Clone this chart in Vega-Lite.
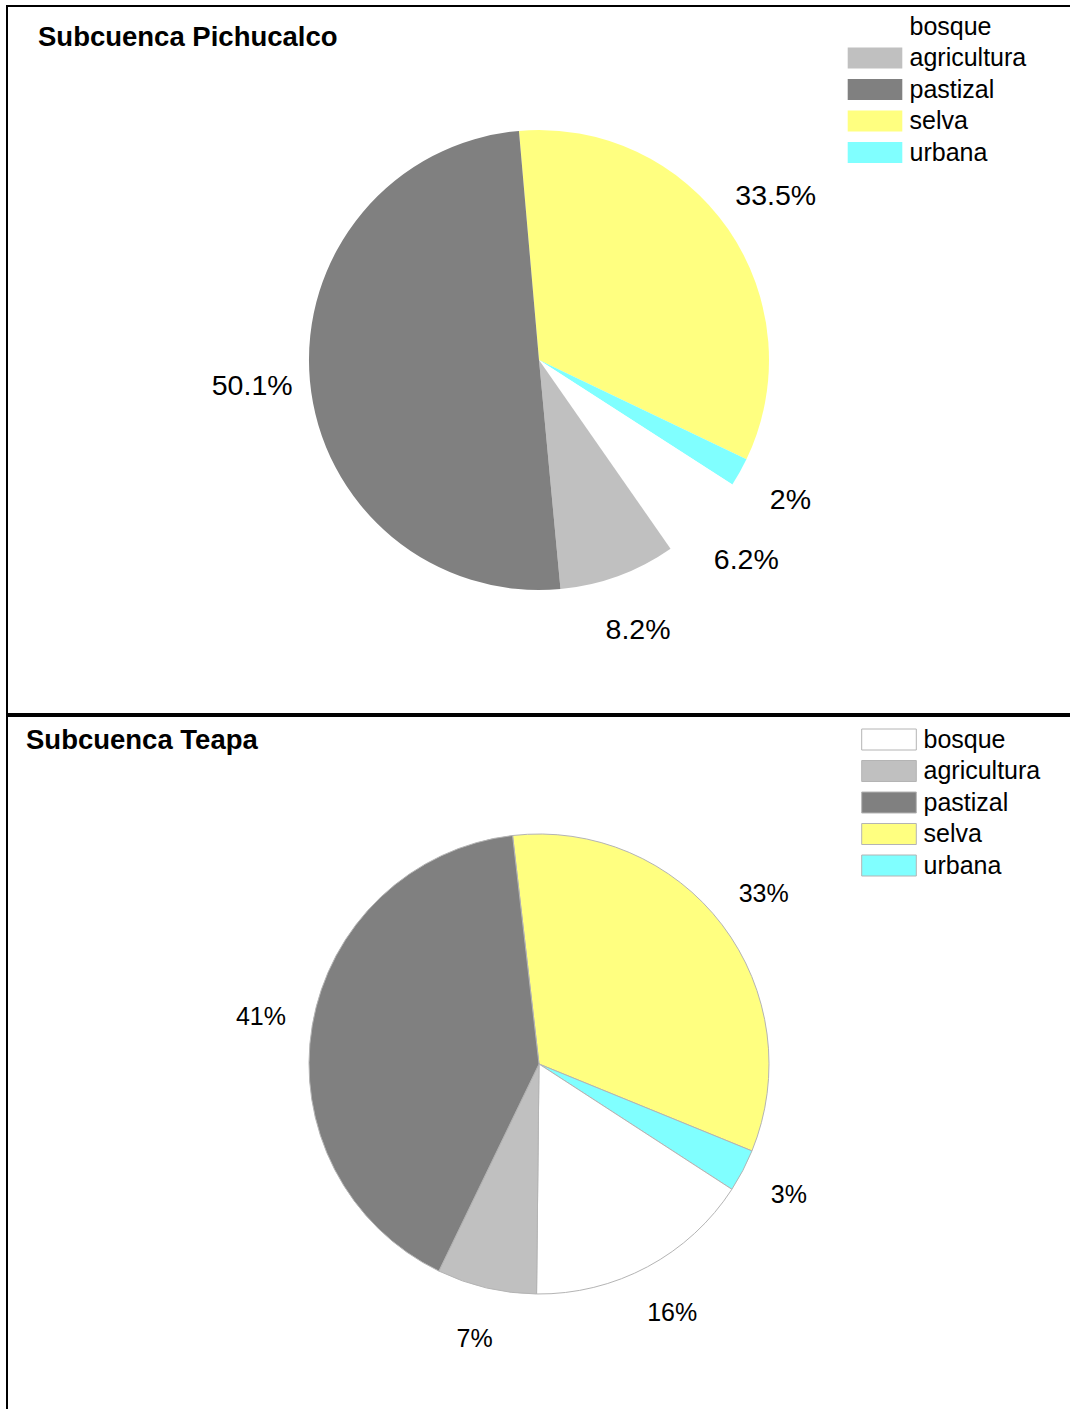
{
  "$schema": "https://vega.github.io/schema/vega-lite/v6.json",
  "padding": {"left": 6, "top": 5, "right": 0, "bottom": 0},
  "spacing": 0,
  "background": "white",
  "resolve": {"scale": {"color": "independent", "theta": "independent"}, "legend": {"color": "independent"}},
  "config": {
    "view": {"stroke": "black", "strokeWidth": 2},
    "font": "Liberation Sans",
    "legend": {
      "labelFont": "Liberation Sans",
      "labelFontSize": 25,
      "labelColor": "black",
      "labelLimit": 400,
      "padding": 0,
      "symbolType": "M-2.6,-1H2.6V1H-2.6Z",
      "symbolSize": 441,
      "symbolOpacity": 1,
      "labelOffset": 22,
      "rowPadding": 5.5
    }
  },
  "datasets": {
    "pichucalco": [
      {"uso": "selva", "porcentaje": 33.5, "etiqueta": "33.5%", "orden": 1},
      {"uso": "urbana", "porcentaje": 2, "etiqueta": "2%", "orden": 2},
      {"uso": "bosque", "porcentaje": 6.2, "etiqueta": "6.2%", "orden": 3},
      {"uso": "agricultura", "porcentaje": 8.2, "etiqueta": "8.2%", "orden": 4},
      {"uso": "pastizal", "porcentaje": 50.1, "etiqueta": "50.1%", "orden": 5}
    ],
    "teapa": [
      {"uso": "selva", "porcentaje": 33, "etiqueta": "33%", "orden": 1},
      {"uso": "urbana", "porcentaje": 3, "etiqueta": "3%", "orden": 2},
      {"uso": "bosque", "porcentaje": 16, "etiqueta": "16%", "orden": 3},
      {"uso": "agricultura", "porcentaje": 7, "etiqueta": "7%", "orden": 4},
      {"uso": "pastizal", "porcentaje": 41, "etiqueta": "41%", "orden": 5}
    ]
  },
  "vconcat": [
    {
      "width": 1064,
      "height": 708,
      "view": {"stroke": "black", "strokeWidth": 2, "fill": "white"},
      "title": {
        "text": "Subcuenca Pichucalco",
        "anchor": "start",
        "frame": "group",
        "offset": -67,
        "dx": 31,
        "baseline": "alphabetic",
        "font": "Liberation Sans",
        "fontSize": 27.5,
        "fontWeight": "bold",
        "color": "black"
      },
      "data": {"name": "pichucalco"},
      "encoding": {
        "theta": {"field": "porcentaje", "type": "quantitative", "stack": true, "scale": {"range": [-0.0873, 6.1959]}},
        "order": {"field": "orden", "type": "quantitative"}
      },
      "layer": [
        {
          "mark": {"type": "arc", "outerRadius": 230, "strokeWidth": 0},
          "encoding": {
            "color": {
              "field": "uso",
              "type": "nominal",
              "scale": {
                "domain": ["bosque", "agricultura", "pastizal", "selva", "urbana"],
                "range": ["#ffffff", "#c0c0c0", "#808080", "#ffff80", "#80ffff"]
              },
              "legend": {
                "title": null,
                "orient": "none",
                "legendX": 855.5,
                "legendY": 8,
                "symbolStrokeWidth": 0
              }
            }
          }
        },
        {
          "mark": {"type": "text", "radius": 288, "fontSize": 28.5, "font": "Liberation Sans", "align": "center", "baseline": "middle"},
          "encoding": {
            "text": {"field": "etiqueta", "type": "nominal"},
            "detail": {"field": "uso", "type": "nominal"},
            "color": {"value": "black"}
          }
        }
      ]
    },
    {
      "width": 1064,
      "height": 696,
      "view": {"stroke": "black", "strokeWidth": 2, "fill": "white"},
      "title": {
        "text": "Subcuenca Teapa",
        "anchor": "start",
        "frame": "group",
        "offset": -60,
        "dx": 19,
        "baseline": "alphabetic",
        "font": "Liberation Sans",
        "fontSize": 27.5,
        "fontWeight": "bold",
        "color": "black"
      },
      "data": {"name": "teapa"},
      "encoding": {
        "theta": {"field": "porcentaje", "type": "quantitative", "stack": true, "scale": {"range": [-0.115, 6.168]}},
        "order": {"field": "orden", "type": "quantitative"}
      },
      "layer": [
        {
          "mark": {"type": "arc", "outerRadius": 230, "stroke": "#b4b4b4", "strokeWidth": 1},
          "encoding": {
            "color": {
              "field": "uso",
              "type": "nominal",
              "scale": {
                "domain": ["bosque", "agricultura", "pastizal", "selva", "urbana"],
                "range": ["#ffffff", "#c0c0c0", "#808080", "#ffff80", "#80ffff"]
              },
              "legend": {
                "title": null,
                "orient": "none",
                "legendX": 869.5,
                "legendY": 11,
                "symbolStrokeColor": "#b4b4b4",
                "symbolStrokeWidth": 1
              }
            }
          }
        },
        {
          "mark": {"type": "text", "radius": 282, "fontSize": 25, "font": "Liberation Sans", "align": "center", "baseline": "middle"},
          "encoding": {
            "text": {"field": "etiqueta", "type": "nominal"},
            "detail": {"field": "uso", "type": "nominal"},
            "color": {"value": "black"}
          }
        }
      ]
    }
  ]
}
